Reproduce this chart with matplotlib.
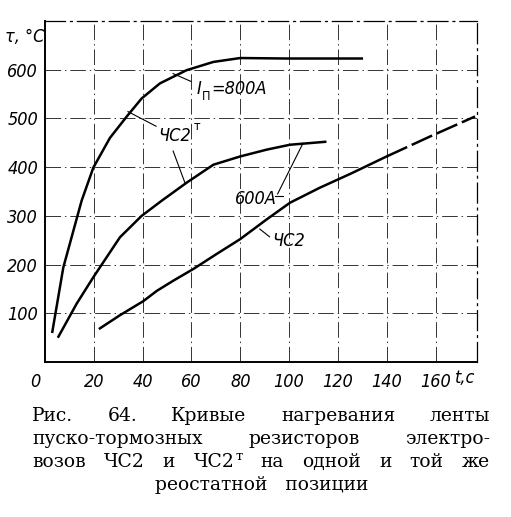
import matplotlib
matplotlib.use("Agg")
import matplotlib.pyplot as plt
import matplotlib.transforms as mtransforms

# ---- data ----
x_800_cs2t = [3.0, 7.5, 15, 19.8, 26.6, 33.5, 39.6, 47.1, 58, 69, 80, 99, 129.8]
y_800_cs2t = [62, 194, 331, 399, 460, 504, 541, 572, 599, 616, 624, 623, 623]

x_600_cs2t = [5.5, 13, 19.8, 30.7, 39.6, 47.8, 58, 69, 80, 90.9, 100.4, 114.8]
y_600_cs2t = [52, 120, 174, 256, 300, 331, 368, 405, 422, 436, 446, 452]

x_cs2 = [22.5, 30.7, 40.3, 45.8, 52.6, 60.8, 70.4, 79.9, 90.9, 100.4, 112.7, 125, 140]
y_cs2 = [69, 96, 125, 146, 167, 191, 222, 252, 293, 327, 358, 386, 422]
x_cs2_dash = [140, 157.8, 176.2]
y_cs2_dash = [422, 463, 504]

x_ticks = [0, 20, 40, 60, 80, 100, 120, 140, 160]
y_ticks = [100, 200, 300, 400, 500, 600]

caption_lines = [
    ["Рис.", "64.", "Кривые", "нагревания", "ленты"],
    ["пуско-тормозных", "резисторов", "электро-"],
    ["возов", "ЧС2", "и", "ЧС2^т", "на", "одной", "и", "той", "же"],
]
caption_last = "реостатной   позиции"

W, H = 511, 517
fig = plt.figure(figsize=(W / 100, H / 100), dpi=100)
L, R, T, B = 45, 477, 21, 362
ax = fig.add_axes([L / W, 1 - B / H, (R - L) / W, (B - T) / H])
ax.set_xlim(0, 177)
ax.set_ylim(0, 700)

FAM = ["DejaVu Sans"]
tick_font = dict(family=FAM, style="italic", stretch="condensed", size=13)
grid_ls = (0, (16, 4, 1.5, 4))

for xv in x_ticks[1:]:
    ax.axvline(xv, color="0.2", lw=0.7, ls=grid_ls, zorder=1)
for yv in y_ticks:
    ax.axhline(yv, color="0.2", lw=0.7, ls=grid_ls, zorder=1)

for s in ["left", "bottom"]:
    ax.spines[s].set_linewidth(1.4)
for s in ["top", "right"]:
    ax.spines[s].set_linewidth(0.9)
    ax.spines[s].set_linestyle(grid_ls)

ax.set_xticks(x_ticks)
ax.set_xticklabels([str(v) for v in x_ticks], **tick_font)
ax.set_yticks(y_ticks)
ax.set_yticklabels([str(v) for v in y_ticks], **tick_font)
ax.tick_params(length=0, pad=5)
ax.tick_params(axis="x", pad=8)
lbl0 = ax.get_xticklabels()[0]
lbl0.set_transform(lbl0.get_transform() + mtransforms.ScaledTranslation(-0.10, 0, fig.dpi_scale_trans))

ax.text(-0.02, 667, "τ, °C", ha="right", va="center", **tick_font)
ax.text(172, -14, "t,c", ha="center", va="top", clip_on=False, **tick_font)

lw = 1.8
ax.plot(x_800_cs2t, y_800_cs2t, color="black", lw=lw, zorder=3)
ax.plot(x_600_cs2t, y_600_cs2t, color="black", lw=lw, zorder=3)
ax.plot(x_cs2, y_cs2, color="black", lw=lw, zorder=3)
ax.plot(x_cs2_dash, y_cs2_dash, color="black", lw=lw, ls=(0, (9, 2)), zorder=3)

ann_font = dict(family=FAM, style="italic", stretch="condensed", size=13)
sub_font = dict(family=FAM, stretch="condensed", size=9)
lk = dict(color="black", lw=0.8, zorder=2)
# I_П = 800A
ax.plot([52.5, 59.8], [592, 576], **lk)
ax.text(62.3, 561, "I", ha="left", va="center", **ann_font)
ax.text(64.3, 545, "П", ha="left", va="center", **sub_font)
ax.text(68.3, 561, "=800A", ha="left", va="center", **ann_font)
# ЧС2т (top two curves)
ax.plot([34, 45.5], [514, 484], **lk)
ax.plot([52.5, 57.4], [433, 367], **lk)
ax.text(46.3, 463, "ЧС2", ha="left", va="center", **ann_font)
ax.text(61.0, 484, "т", ha="left", va="center", **sub_font)
# 600A
ax.text(78, 335, "600A", ha="left", va="center", **ann_font)
ax.plot([94.4, 97.6], [341, 341], **lk)
ax.plot([95.3, 105.7], [345, 449], **lk)
# ЧС2
ax.plot([88, 92], [273, 257], **lk)
ax.text(93, 249, "ЧС2", ha="left", va="center", **ann_font)

# ---- caption ----
cap_font = dict(family=["DejaVu Serif"], size=13.5)
renderer = fig.canvas.get_renderer()


def place_line(words, y_px, x0_px, x1_px):
    items = []
    widths = []
    for w in words:
        if "^" in w:
            base, sup = w.split("^")
            t1 = fig.text(0, 1 - y_px / H, base, va="center", ha="left", **cap_font)
            t2 = fig.text(0, 1 - (y_px - 6) / H, sup, va="center", ha="left",
                          family=cap_font["family"], size=9.5)
            w1 = t1.get_window_extent(renderer).width
            w2 = t2.get_window_extent(renderer).width
            items.append([(t1, 0), (t2, w1 + 1)])
            widths.append(w1 + w2 + 1)
        else:
            t = fig.text(0, 1 - y_px / H, w, va="center", ha="left", **cap_font)
            items.append([(t, 0)])
            widths.append(t.get_window_extent(renderer).width)
    gap = (x1_px - x0_px - sum(widths)) / (len(words) - 1)
    x = x0_px
    for parts, wd in zip(items, widths):
        for t, off in parts:
            t.set_x((x + off) / W)
        x += wd + gap


ys = [416, 439, 462]
for line, y in zip(caption_lines, ys):
    place_line(line, y, 32, 490)
fig.text(262 / W, 1 - 485 / H, caption_last, ha="center", va="center", **cap_font)

fig.savefig("out.png", dpi=100)
